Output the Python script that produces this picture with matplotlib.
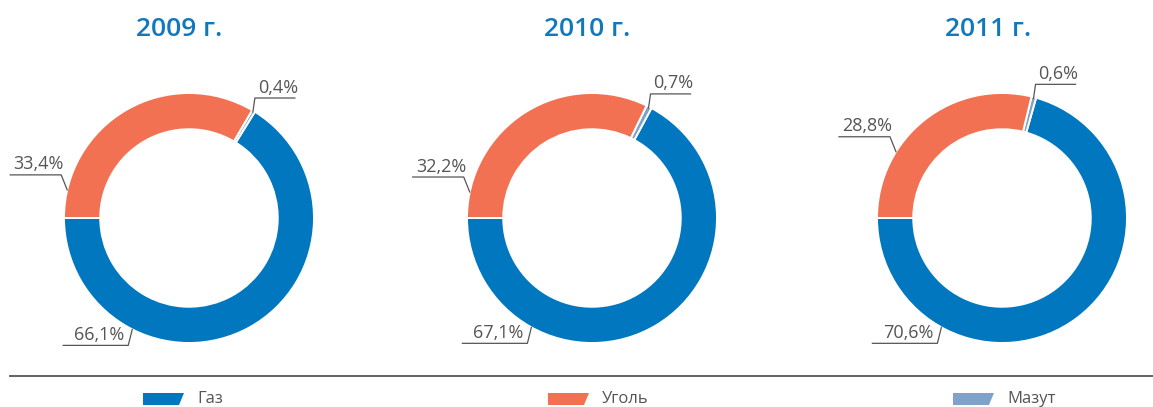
import numpy as np
import matplotlib.pyplot as plt
from matplotlib.patches import Polygon

# ---- данные ----
years = ['2009 г.', '2010 г.', '2011 г.']
categories = ['Газ', 'Уголь', 'Мазут']
gas = [66.1, 67.1, 70.6]
coal = [33.4, 32.2, 28.8]
mazut = [0.4, 0.7, 0.6]
colors = ['#0077be', '#f27153', '#80a2c8']

# ---- разметка (пиксели) ----
W, H = 1153, 407
R = 125
centers = [(189, 218), (592, 218), (1002, 218)]
title_x = [179, 587, 988]
gas_angle = [243, 241, 241]
coal_angle = [167, 168, 148]
legend_x = [143, 548, 953]
text_color = '#555555'

plt.rcParams['font.family'] = ['Open Sans', 'DejaVu Sans']
fig = plt.figure(figsize=(W / 100, H / 100), dpi=100)

# верхний слой в пикселях для подписей и легенды
bg = fig.add_axes([0, 0, 1, 1])
bg.set_xlim(0, W)
bg.set_ylim(H, 0)
bg.axis('off')
bg.set_zorder(5)


def fmt(v):
    return f'{v:.1f}'.replace('.', ',') + '%'


def leader(ax_px, ay_px, kdx, kdy, hlen, label):
    kx, ky = ax_px + kdx, ay_px + kdy
    ex = kx + hlen
    bg.plot([ax_px, kx, ex], [ay_px, ky, ky], color=text_color, lw=0.9)
    bg.text((kx + ex) / 2 + 3, ky - 1.5, label, ha='center', va='bottom',
            fontsize=13, color=text_color)


for i in range(3):
    cx, cy = centers[i]
    ax = fig.add_axes([(cx - R) / W, (H - cy - R) / H, 2 * R / W, 2 * R / H])
    wedges, _ = ax.pie([gas[i], mazut[i], coal[i]],
                       colors=[colors[0], colors[2], colors[1]],
                       startangle=180, counterclock=True, radius=1,
                       wedgeprops=dict(width=0.29, edgecolor='white', linewidth=1.4))
    ax.set_xlim(-1, 1)
    ax.set_ylim(-1, 1)
    ax.set_aspect('equal')
    ax.axis('off')

    bg.text(title_x[i], 29, years[i], ha='center', va='center',
            fontsize=19, fontweight='semibold', color='#0f78bf')

    # газ
    a = np.radians(gas_angle[i])
    leader(cx + R * np.cos(a), cy - R * np.sin(a), -4, 16, -65, fmt(gas[i]))
    # уголь
    a = np.radians(coal_angle[i])
    leader(cx + R * np.cos(a), cy - R * np.sin(a), -6, -15, -51, fmt(coal[i]))
    # мазут
    a = np.radians((wedges[1].theta1 + wedges[1].theta2) / 2)
    leader(cx + 0.99 * R * np.cos(a), cy - 0.99 * R * np.sin(a), 2, -14, 40, fmt(mazut[i]))

# разделительная линия
bg.plot([10, W], [376, 376], color=text_color, lw=1.3)

# легенда
leg_colors = [colors[0], colors[1], colors[2]]
for x, name, c in zip(legend_x, categories, leg_colors):
    bg.add_patch(Polygon([(x, 393), (x + 41, 393), (x + 36, 405), (x, 405)],
                         closed=True, color=c, lw=0))
    bg.text(x + 54, 399, name, ha='left', va='center', fontsize=12, color=text_color)

fig.savefig('out.png', dpi=100)
